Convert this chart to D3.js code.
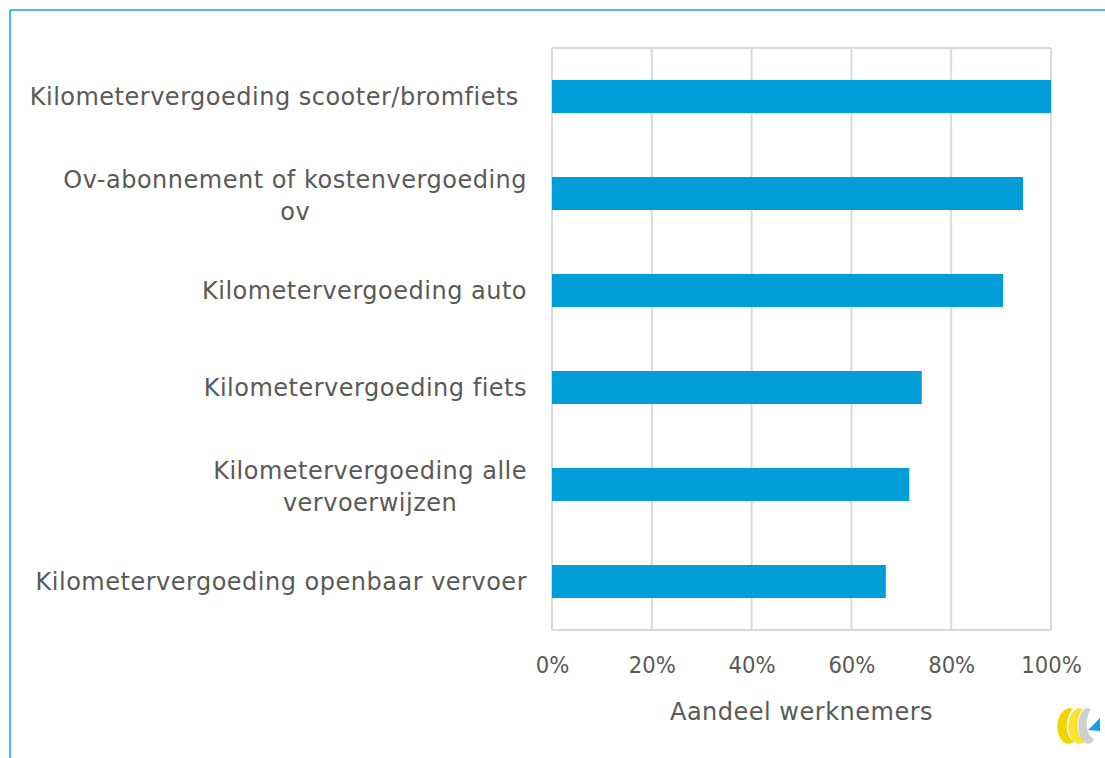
<!DOCTYPE html>
<html><head><meta charset="utf-8">
<script src="https://cdn.jsdelivr.net/npm/d3@7"></script>
<style>
html,body{margin:0;padding:0;background:#fff;}
svg{display:block;}
text{font-family:"DejaVu Sans",sans-serif;fill:#595959;}
</style></head>
<body>
<svg id="chart" width="1105" height="758"></svg>
<script>
const categories = [
  ["Kilometervergoeding scooter/bromfiets\u00a0"],
  ["Ov-abonnement of kostenvergoeding", "ov"],
  ["Kilometervergoeding auto"],
  ["Kilometervergoeding fiets"],
  ["Kilometervergoeding alle", "vervoerwijzen"],
  ["Kilometervergoeding openbaar vervoer"]
];
const values = [1.00, 0.944, 0.904, 0.741, 0.716, 0.669];
const tickValues = [0, 0.2, 0.4, 0.6, 0.8, 1.0];
const axisTitle = "Aandeel werknemers";

const svg = d3.select("#chart");
const W = 1105, H = 758;
const plot = {left: 552, right: 1051, top: 48, bottom: 630};

// frame
svg.append("line").attr("x1", 10).attr("y1", 10).attr("x2", W).attr("y2", 10)
  .attr("stroke", "#17a3dd").attr("stroke-width", 1.6);
svg.append("line").attr("x1", 10).attr("y1", 10).attr("x2", 10).attr("y2", H)
  .attr("stroke", "#0fb0ee").attr("stroke-width", 1.6);

const keys = categories.map((c, i) => i);
const x = d3.scaleLinear().domain([0, 1]).range([plot.left, plot.right]);
const y = d3.scaleBand().domain(keys).range([plot.top, plot.bottom]).paddingInner(0.66).paddingOuter(0.33);

// gridlines
svg.append("g").selectAll("line").data(tickValues).join("line")
  .attr("x1", d => x(d)).attr("x2", d => x(d))
  .attr("y1", plot.top).attr("y2", plot.bottom)
  .attr("stroke", "#d9d9d9").attr("stroke-width", 2);
svg.append("line").attr("x1", plot.left).attr("x2", plot.right).attr("y1", plot.top).attr("y2", plot.top)
  .attr("stroke", "#d9d9d9").attr("stroke-width", 2);
svg.append("line").attr("x1", plot.left).attr("x2", plot.right).attr("y1", plot.bottom).attr("y2", plot.bottom)
  .attr("stroke", "#d9d9d9").attr("stroke-width", 2);

// bars
svg.append("g").selectAll("rect").data(values).join("rect")
  .attr("x", x(0))
  .attr("y", (d, i) => y(i))
  .attr("width", d => x(d) - x(0))
  .attr("height", y.bandwidth())
  .attr("fill", "#009ed8");

// x axis
const xAxis = d3.axisBottom(x).tickValues(tickValues).tickFormat(d3.format(".0%")).tickSize(0).tickPadding(0);
const gx = svg.append("g").attr("transform", `translate(0,${plot.bottom})`).call(xAxis);
gx.select(".domain").remove();
gx.selectAll("text").attr("dy", null).attr("y", 43).style("font-size", "23.5px")
  .style("font-family", '"DejaVu Sans Condensed","DejaVu Sans",sans-serif').attr("fill", "#595959");

svg.append("text").attr("x", (plot.left + plot.right) / 2).attr("y", 720)
  .attr("text-anchor", "middle").style("font-size", "24px").style("letter-spacing", "0.5px").text(axisTitle);

// category labels
const lineH = 32;
const right = 527;
const lab = svg.append("g").selectAll("text").data(categories).join("text")
  .style("font-size", "24px")
  .style("letter-spacing", "0.5px")
  .attr("y", (d, i) => y(i) + y.bandwidth() / 2);
lab.each(function(lines) {
  const t = d3.select(this);
  const n = lines.length;
  lines.forEach((s, j) => {
    t.append("tspan").attr("dy", j === 0 ? (n === 1 ? 8.5 : -6) : lineH).text(s);
  });
  const tspans = t.selectAll("tspan").nodes();
  const maxW = d3.max(tspans.map(nd => nd.getComputedTextLength()));
  const cx = right - maxW / 2;
  tspans.forEach(nd => { d3.select(nd).attr("x", cx).attr("text-anchor", "middle"); });
});

// logo
const logo = svg.append("g").attr("transform", "translate(1075,726)");
logo.append("path").attr("d", "M-6,-18 C-19,-15 -22,9 -10,17 C-6,19 -2,17 -1,15 C-11,10 -10,-10 -2,-17 Z")
  .attr("fill", "#f0d400");
logo.append("path").attr("d", "M4,-18 C-8,-15 -11,9 1,17 C5,19 9,17 10,15 C0,10 1,-10 8,-17 Z")
  .attr("fill", "#f7e431");
logo.append("path").attr("d", "M12,-18 C2,-15 0,9 10,17 C14,19 18,17 19,13 C10,10 10,-10 16,-17 Z")
  .attr("fill", "#cfcfcf");
logo.append("path").attr("d", "M13,4 L25,-8 L25,5 Z").attr("fill", "#1ba1e2");
</script>
</body></html>
